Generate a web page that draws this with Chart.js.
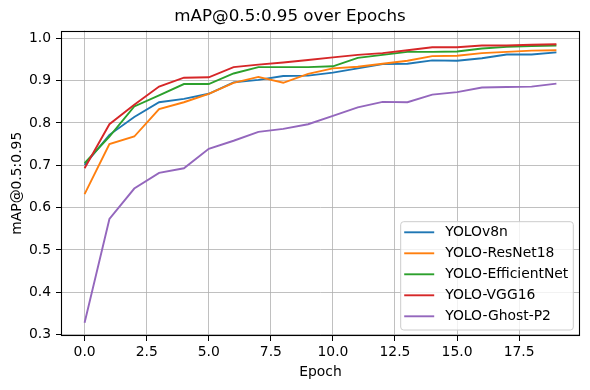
<!DOCTYPE html>
<html>
<head>
<meta charset="utf-8">
<script src="https://cdn.jsdelivr.net/npm/chart.js@4.4.0/dist/chart.umd.min.js"></script>
<style>
  html, body { margin: 0; padding: 0; background: #ffffff; }
  #wrap { width: 590px; height: 390px; }
</style>
</head>
<body>
<div id="wrap"><canvas id="c" width="590" height="390"></canvas></div>
<script>
const epochs = [0,1,2,3,4,5,6,7,8,9,10,11,12,13,14,15,16,17,18,19];
const seriesNames = ["YOLOv8n", "YOLO-ResNet18", "YOLO-EfficientNet", "YOLO-VGG16", "YOLO-Ghost-P2"];
const yolov8n      = [0.701,0.772,0.814,0.849,0.857,0.869,0.896,0.902,0.911,0.912,0.919,0.929,0.939,0.940,0.948,0.947,0.953,0.962,0.962,0.967];
const resnet18     = [0.632,0.750,0.768,0.833,0.849,0.869,0.895,0.909,0.895,0.916,0.929,0.933,0.940,0.947,0.958,0.959,0.965,0.968,0.971,0.972];
const efficientnet = [0.705,0.768,0.839,0.865,0.892,0.892,0.917,0.932,0.932,0.932,0.934,0.954,0.961,0.968,0.968,0.969,0.976,0.980,0.982,0.983];
const vgg16        = [0.693,0.797,0.843,0.886,0.907,0.908,0.932,0.938,0.943,0.949,0.955,0.961,0.965,0.972,0.979,0.979,0.983,0.983,0.985,0.986];
const ghostP2      = [0.328,0.573,0.645,0.682,0.693,0.739,0.758,0.779,0.786,0.797,0.817,0.837,0.850,0.849,0.867,0.873,0.884,0.885,0.886,0.893];
const xTicks = [0, 2.5, 5, 7.5, 10, 12.5, 15, 17.5];
const yTicks = [0.3, 0.4, 0.5, 0.6, 0.7, 0.8, 0.9, 1.0];
const colors = ["#1f77b4", "#ff7f0e", "#2ca02c", "#d62728", "#9467bd"];

const allSeries = [yolov8n, resnet18, efficientnet, vgg16, ghostP2];

Chart.defaults.font.family = "'DejaVu Sans', sans-serif";
Chart.defaults.font.size = 13.9;
Chart.defaults.color = "#000000";

const datasets = allSeries.map((vals, i) => ({
  label: seriesNames[i],
  data: vals.map((v, j) => ({ x: epochs[j], y: v })),
  borderColor: colors[i],
  backgroundColor: colors[i],
  borderWidth: 1.9,
  pointRadius: 0,
  tension: 0,
  fill: false,
  order: allSeries.length - i
}));

const framePlugin = {
  id: 'frame',
  afterDatasetsDraw(chart) {
    const { ctx, chartArea: a } = chart;
    ctx.save();
    ctx.strokeStyle = '#000000';
    ctx.lineWidth = 1.1;
    const l = Math.round(a.left) + 0.5, t = Math.round(a.top) + 0.5;
    const r = Math.round(a.right) - 0.5, b = Math.round(a.bottom) - 0.5;
    ctx.strokeRect(l, t, r - l, b - t);
    ctx.restore();
  }
};

const legendPlugin = {
  id: 'mplLegend',
  afterDraw(chart) {
    const { ctx, chartArea: a } = chart;
    const w = 172.6, h = 108.3;
    const x0 = a.right - 6.7 - w, y0 = a.bottom - 6 - h;
    const r = 3;
    ctx.save();
    ctx.beginPath();
    ctx.moveTo(x0 + r, y0);
    ctx.lineTo(x0 + w - r, y0);
    ctx.quadraticCurveTo(x0 + w, y0, x0 + w, y0 + r);
    ctx.lineTo(x0 + w, y0 + h - r);
    ctx.quadraticCurveTo(x0 + w, y0 + h, x0 + w - r, y0 + h);
    ctx.lineTo(x0 + r, y0 + h);
    ctx.quadraticCurveTo(x0, y0 + h, x0, y0 + h - r);
    ctx.lineTo(x0, y0 + r);
    ctx.quadraticCurveTo(x0, y0, x0 + r, y0);
    ctx.closePath();
    ctx.fillStyle = 'rgba(255,255,255,0.8)';
    ctx.fill();
    ctx.strokeStyle = '#cccccc';
    ctx.lineWidth = 1;
    ctx.stroke();
    ctx.font = "13.9px 'DejaVu Sans', sans-serif";
    ctx.textBaseline = 'middle';
    ctx.textAlign = 'left';
    seriesNames.forEach((name, i) => {
      const cy = y0 + 10.6 + i * 21;
      ctx.strokeStyle = colors[i];
      ctx.lineWidth = 1.9;
      ctx.beginPath();
      ctx.moveTo(x0 + 3.5, cy);
      ctx.lineTo(x0 + 33.5, cy);
      ctx.stroke();
      ctx.fillStyle = '#000000';
      ctx.fillText(name, x0 + 44.5, cy + 0.5);
    });
    ctx.restore();
  }
};

new Chart(document.getElementById('c'), {
  type: 'line',
  data: { datasets },
  options: {
    responsive: false,
    animation: false,
    devicePixelRatio: 1,
    layout: { padding: { left: 0, right: 10, top: 0, bottom: 0 } },
    plugins: {
      legend: { display: false },
      tooltip: { enabled: false },
      title: {
        display: true,
        text: 'mAP@0.5:0.95 over Epochs',
        color: '#000000',
        font: { size: 16.7, weight: 'normal' },
        padding: { top: 7, bottom: 3.5 }
      }
    },
    scales: {
      x: {
        type: 'linear',
        min: -0.95,
        max: 19.95,
        afterFit(scale) { scale.height = 54; },
        afterBuildTicks(scale) { scale.ticks = xTicks.map(v => ({ value: v })); },
        ticks: {
          autoSkip: false,
          maxRotation: 0,
          padding: 3.4,
          color: '#000000',
          callback: (v) => Number(v).toFixed(1)
        },
        grid: { color: '#b0b0b0', lineWidth: 0.8, tickLength: 5, tickColor: '#000000', tickWidth: 1 },
        border: { display: false },
        title: { display: true, text: 'Epoch', color: '#000000', font: { size: 13.9 }, padding: { top: 0, bottom: 9.7 } }
      },
      y: {
        type: 'linear',
        min: 0.2965,
        max: 1.0185,
        afterFit(scale) { scale.width = 61; },
        afterBuildTicks(scale) { scale.ticks = yTicks.map(v => ({ value: v })); },
        ticks: {
          autoSkip: false,
          padding: 4.9,
          color: '#000000',
          callback: (v) => Number(v).toFixed(1)
        },
        grid: { color: '#b0b0b0', lineWidth: 0.8, tickLength: 5, tickColor: '#000000', tickWidth: 1 },
        border: { display: false },
        title: { display: true, text: 'mAP@0.5:0.95', color: '#000000', font: { size: 13.9 }, padding: { top: 9, bottom: 0 } }
      }
    }
  },
  plugins: [framePlugin, legendPlugin]
});
</script>
</body>
</html>
